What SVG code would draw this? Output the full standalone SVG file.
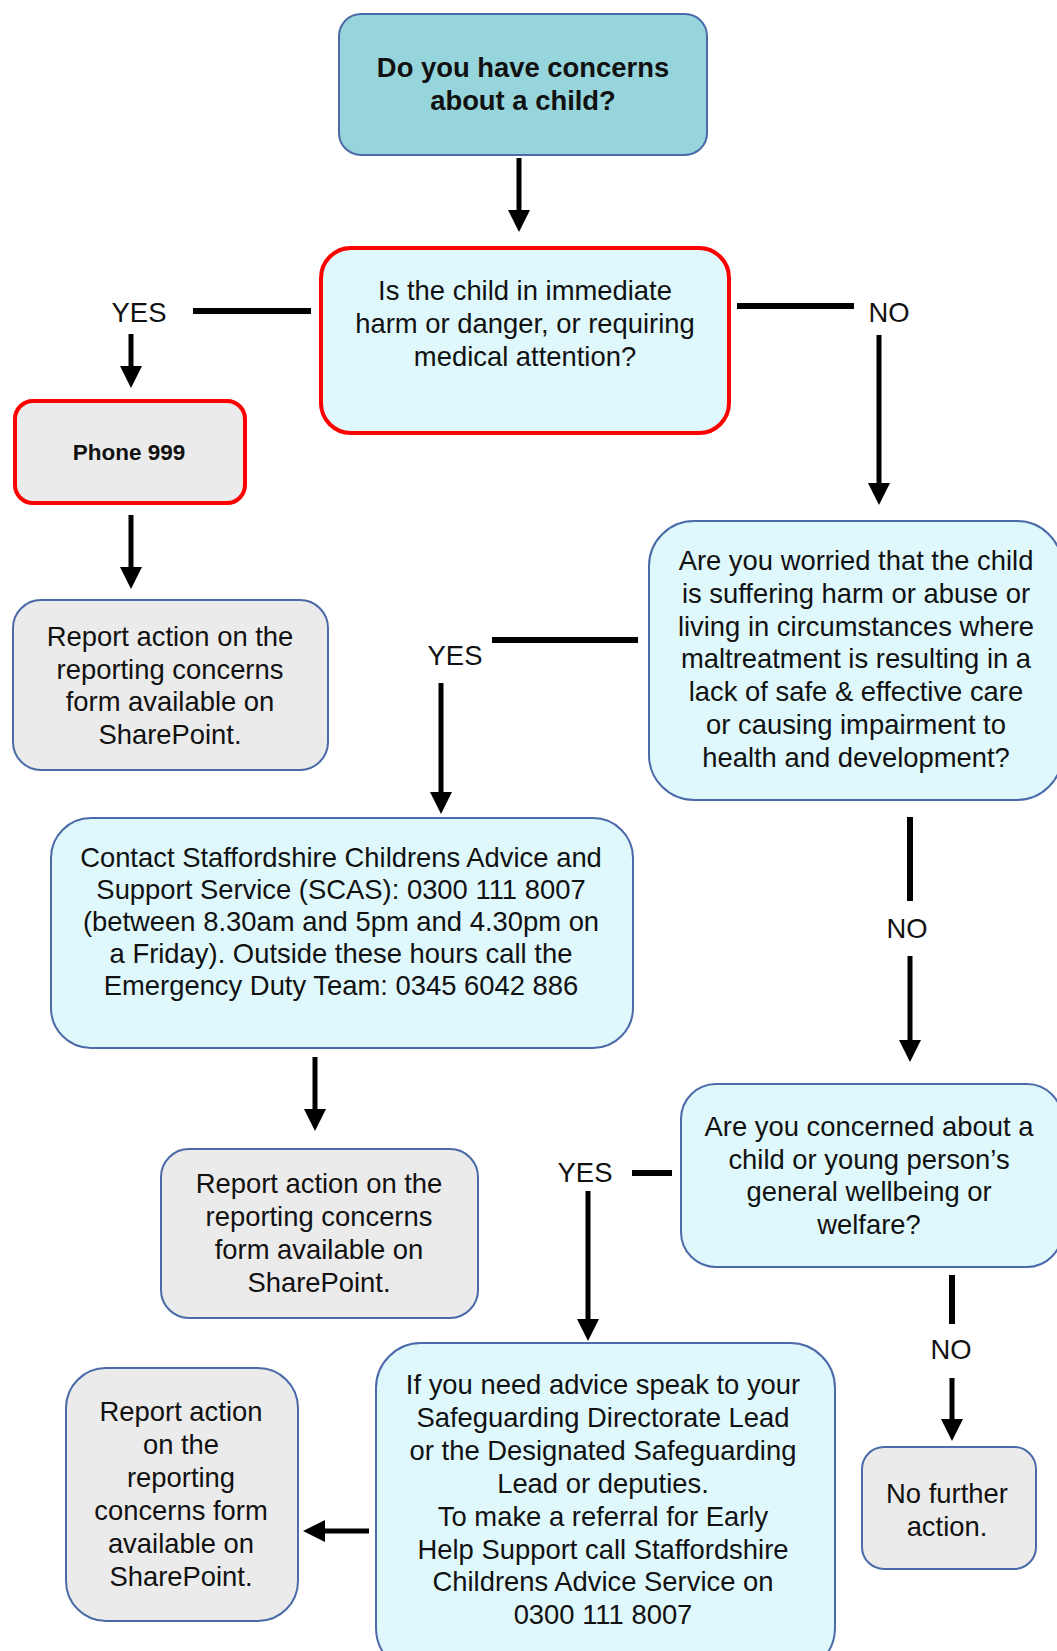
<svg xmlns="http://www.w3.org/2000/svg" width="1057" height="1651" viewBox="0 0 1057 1651">
<defs>
<style>
text{font-family:"Liberation Sans",Arial,sans-serif;font-size:27.4px;fill:#111;text-anchor:middle}
.b{font-weight:bold}
.teal{fill:#96d5dc;stroke:#4a6aa8;stroke-width:2}
.cyan{fill:#dff8fc;stroke:#4a6aa8;stroke-width:2}
.grey{fill:#ebebeb;stroke:#4a6aa8;stroke-width:2}
.red{stroke:#ff0000;stroke-width:4}
.ln{stroke:#000;stroke-width:6;fill:none}
.ar{stroke:#000;stroke-width:5;fill:none;marker-end:url(#ah)}
</style>
<marker id="ah" markerUnits="userSpaceOnUse" markerWidth="22" markerHeight="22" viewBox="0 0 22 22" refX="11" refY="11" orient="auto">
<path d="M0,0 L22,11 L0,22 z" fill="#000"/>
</marker>
</defs>
<rect width="1057" height="1651" fill="#fff"/>

<g id="connectors">
<line class="ar" x1="519" y1="158" x2="519" y2="221"/>
<line class="ln" x1="193" y1="311" x2="311" y2="311"/>
<line class="ar" x1="131" y1="334" x2="131" y2="377"/>
<line class="ar" x1="131" y1="515" x2="131" y2="578"/>
<line class="ln" x1="737" y1="306" x2="854" y2="306"/>
<line class="ar" x1="879" y1="335" x2="879" y2="494"/>
<line class="ln" x1="492" y1="640" x2="638" y2="640"/>
<line class="ar" x1="441" y1="683" x2="441" y2="803"/>
<line class="ln" x1="910" y1="817" x2="910" y2="901"/>
<line class="ar" x1="910" y1="956" x2="910" y2="1051"/>
<line class="ar" x1="315" y1="1057" x2="315" y2="1120"/>
<line class="ln" x1="632" y1="1173" x2="672" y2="1173"/>
<line class="ar" x1="588" y1="1191" x2="588" y2="1330"/>
<line class="ln" x1="952" y1="1275" x2="952" y2="1324"/>
<line class="ar" x1="952" y1="1378" x2="952" y2="1430"/>
<line class="ar" x1="369" y1="1531" x2="314" y2="1531"/>
</g>

<g id="labels">
<text x="139" y="322">YES</text>
<text x="889" y="322">NO</text>
<text x="455" y="665">YES</text>
<text x="907" y="938">NO</text>
<text x="585" y="1182">YES</text>
<text x="951" y="1359">NO</text>
</g>

<g id="n-start">
<rect class="teal" x="339" y="14" width="368" height="141" rx="22"/>
<text class="b" x="523" y="77">Do you have concerns</text>
<text class="b" x="523" y="110">about a child?</text>
</g>

<g id="n-immediate">
<rect class="cyan red" x="321" y="248" width="408" height="185" rx="30"/>
<text x="525" y="300">Is the child in immediate</text>
<text x="525" y="333">harm or danger, or requiring</text>
<text x="525" y="366">medical attention?</text>
</g>

<g id="n-phone">
<rect class="grey red" x="15" y="401" width="230" height="102" rx="18"/>
<text class="b" x="129" y="460" style="font-size:22.5px">Phone 999</text>
</g>

<g id="n-report1">
<rect class="grey" x="13" y="600" width="315" height="170" rx="28"/>
<text x="170" y="646">Report action on the</text>
<text x="170" y="679">reporting concerns</text>
<text x="170" y="711">form available on</text>
<text x="170" y="744">SharePoint.</text>
</g>

<g id="n-worried">
<rect class="cyan" x="649" y="521" width="413" height="279" rx="45"/>
<text x="856" y="570">Are you worried that the child</text>
<text x="856" y="603">is suffering harm or abuse or</text>
<text x="856" y="636">living in circumstances where</text>
<text x="856" y="668">maltreatment is resulting in a</text>
<text x="856" y="701">lack of safe &amp; effective care</text>
<text x="856" y="734">or causing impairment to</text>
<text x="856" y="767">health and development?</text>
</g>

<g id="n-scas">
<rect class="cyan" x="51" y="818" width="582" height="230" rx="40"/>
<text x="341" y="867">Contact Staffordshire Childrens Advice and</text>
<text x="341" y="899">Support Service (SCAS): 0300 111 8007</text>
<text x="341" y="931">(between 8.30am and 5pm and 4.30pm on</text>
<text x="341" y="963">a Friday). Outside these hours call the</text>
<text x="341" y="995">Emergency Duty Team: 0345 6042 886</text>
</g>

<g id="n-report2">
<rect class="grey" x="161" y="1149" width="317" height="169" rx="28"/>
<text x="319" y="1193">Report action on the</text>
<text x="319" y="1226">reporting concerns</text>
<text x="319" y="1259">form available on</text>
<text x="319" y="1292">SharePoint.</text>
</g>

<g id="n-wellbeing">
<rect class="cyan" x="681" y="1084" width="381" height="183" rx="35"/>
<text x="869" y="1136">Are you concerned about a</text>
<text x="869" y="1169">child or young person’s</text>
<text x="869" y="1201">general wellbeing or</text>
<text x="869" y="1234">welfare?</text>
</g>

<g id="n-advice">
<rect class="cyan" x="376" y="1343" width="459" height="330" rx="45"/>
<text x="603" y="1394">If you need advice speak to your</text>
<text x="603" y="1427">Safeguarding Directorate Lead</text>
<text x="603" y="1460">or the Designated Safeguarding</text>
<text x="603" y="1493">Lead or deputies.</text>
<text x="603" y="1526">To make a referral for Early</text>
<text x="603" y="1559">Help Support call Staffordshire</text>
<text x="603" y="1591">Childrens Advice Service on</text>
<text x="603" y="1624">0300 111 8007</text>
</g>

<g id="n-report3">
<rect class="grey" x="66" y="1368" width="232" height="253" rx="40"/>
<text x="181" y="1421">Report action</text>
<text x="181" y="1454">on the</text>
<text x="181" y="1487">reporting</text>
<text x="181" y="1520">concerns form</text>
<text x="181" y="1553">available on</text>
<text x="181" y="1586">SharePoint.</text>
</g>

<g id="n-nofurther">
<rect class="grey" x="862" y="1447" width="174" height="122" rx="22"/>
<text x="947" y="1503">No further</text>
<text x="947" y="1536">action.</text>
</g>
</svg>
